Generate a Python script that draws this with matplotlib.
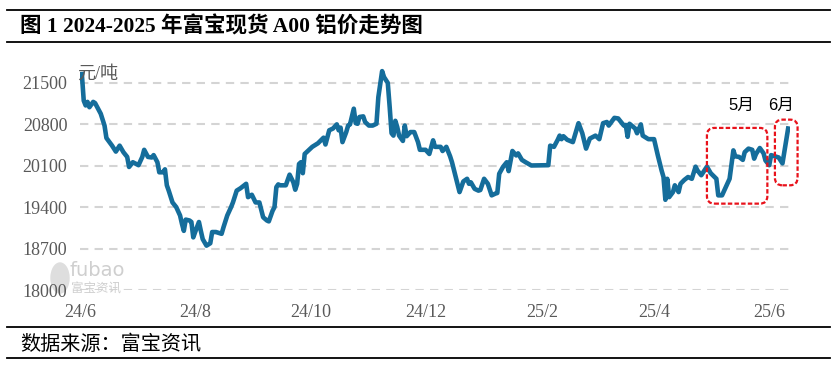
import numpy as np
import pandas as pd
import matplotlib
matplotlib.use('Agg')
import matplotlib.pyplot as plt
import matplotlib.dates as mdates
from matplotlib.patches import FancyBboxPatch, Ellipse
from matplotlib.lines import Line2D

plt.rcParams['font.family'] = ['Liberation Serif', 'Noto Sans CJK SC']

# 富宝现货 A00 铝价 (元/吨)
dates = ['2024-06-02', '2024-06-03', '2024-06-04', '2024-06-05', '2024-06-06', '2024-06-08', '2024-06-09',
         '2024-06-12', '2024-06-14', '2024-06-15', '2024-06-18', '2024-06-20', '2024-06-22', '2024-06-24',
         '2024-06-26', '2024-06-27', '2024-06-29', '2024-07-02', '2024-07-04', '2024-07-05', '2024-07-07',
         '2024-07-09', '2024-07-10', '2024-07-12', '2024-07-13', '2024-07-15', '2024-07-16', '2024-07-17',
         '2024-07-18', '2024-07-20', '2024-07-22', '2024-07-24', '2024-07-25', '2024-07-26', '2024-07-27',
         '2024-07-29', '2024-07-30', '2024-07-31', '2024-08-01', '2024-08-03', '2024-08-04', '2024-08-05',
         '2024-08-07', '2024-08-09', '2024-08-10', '2024-08-12', '2024-08-15', '2024-08-16', '2024-08-18',
         '2024-08-20', '2024-08-21', '2024-08-23', '2024-08-25', '2024-08-27', '2024-08-28', '2024-08-29',
         '2024-08-31', '2024-09-02', '2024-09-04', '2024-09-06', '2024-09-08', '2024-09-09', '2024-09-11',
         '2024-09-12', '2024-09-13', '2024-09-14', '2024-09-15', '2024-09-18', '2024-09-20', '2024-09-22',
         '2024-09-23', '2024-09-24', '2024-09-25', '2024-09-26', '2024-09-27', '2024-09-28', '2024-09-29',
         '2024-10-02', '2024-10-05', '2024-10-08', '2024-10-09', '2024-10-11', '2024-10-13', '2024-10-15',
         '2024-10-16', '2024-10-17', '2024-10-18', '2024-10-20', '2024-10-21', '2024-10-22', '2024-10-24',
         '2024-10-25', '2024-10-26', '2024-10-27', '2024-10-29', '2024-10-30', '2024-11-01', '2024-11-03',
         '2024-11-05', '2024-11-06', '2024-11-08', '2024-11-09', '2024-11-11', '2024-11-12', '2024-11-13',
         '2024-11-14', '2024-11-15', '2024-11-16', '2024-11-17', '2024-11-19', '2024-11-20', '2024-11-21',
         '2024-11-23', '2024-11-25', '2024-11-27', '2024-11-28', '2024-12-01', '2024-12-03', '2024-12-05',
         '2024-12-06', '2024-12-09', '2024-12-10', '2024-12-12', '2024-12-14', '2024-12-15', '2024-12-17',
         '2024-12-19', '2024-12-21', '2024-12-23', '2024-12-24', '2024-12-25', '2024-12-27', '2024-12-29',
         '2024-12-30', '2025-01-01', '2025-01-03', '2025-01-05', '2025-01-07', '2025-01-08', '2025-01-09',
         '2025-01-11', '2025-01-13', '2025-01-14', '2025-01-16', '2025-01-18', '2025-01-19', '2025-01-21',
         '2025-01-23', '2025-01-26', '2025-02-04', '2025-02-05', '2025-02-07', '2025-02-09', '2025-02-10',
         '2025-02-11', '2025-02-12', '2025-02-14', '2025-02-17', '2025-02-20', '2025-02-22', '2025-02-24',
         '2025-02-26', '2025-03-01', '2025-03-03', '2025-03-05', '2025-03-07', '2025-03-08', '2025-03-11',
         '2025-03-13', '2025-03-16', '2025-03-17', '2025-03-18', '2025-03-19', '2025-03-22', '2025-03-23',
         '2025-03-25', '2025-03-26', '2025-03-29', '2025-04-01', '2025-04-03', '2025-04-05', '2025-04-06',
         '2025-04-07', '2025-04-08', '2025-04-09', '2025-04-11', '2025-04-12', '2025-04-14', '2025-04-15',
         '2025-04-17', '2025-04-19', '2025-04-21', '2025-04-23', '2025-04-24', '2025-04-26', '2025-04-29',
         '2025-05-01', '2025-05-04', '2025-05-05', '2025-05-07', '2025-05-09', '2025-05-11', '2025-05-13',
         '2025-05-14', '2025-05-16', '2025-05-18', '2025-05-19', '2025-05-21', '2025-05-23', '2025-05-24',
         '2025-05-25', '2025-05-27', '2025-05-29', '2025-05-30', '2025-06-01', '2025-06-02', '2025-06-04',
         '2025-06-06', '2025-06-08', '2025-06-10', '2025-06-11']
prices = [21650, 21200, 21120, 21180, 21090, 21180, 21160,
          20980, 20780, 20570, 20440, 20340, 20440, 20330,
          20250, 20080, 20160, 20110, 20250, 20370, 20250,
          20240, 20280, 20160, 19990, 19990, 20040, 19770,
          19680, 19480, 19400, 19260, 19120, 19000, 19190,
          19175, 19150, 18890, 18980, 19150, 19000, 18860,
          18750, 18790, 18980, 18980, 18950, 19060, 19260,
          19400, 19480, 19680, 19720, 19770, 19795, 19570,
          19610, 19480, 19480, 19230, 19175, 19160, 19340,
          19400, 19740, 19785, 19770, 19770, 19950, 19820,
          19695, 19795, 20130, 20160, 19975, 20300, 20330,
          20420, 20480, 20575, 20460, 20700, 20730, 20800,
          20700, 20745, 20500, 20670, 20780, 20800, 21065,
          20820, 20810, 20925, 20935, 20840, 20780, 20780,
          20810, 21260, 21700, 21600, 21500, 21095, 20650,
          20610, 20860, 20755, 20610, 20520, 20780, 20600,
          20670, 20670, 20500, 20370, 20370, 20300, 20530,
          20420, 20420, 20350, 20420, 20260, 20160, 19910,
          19655, 19835, 19880, 19795, 19820, 19710, 19680,
          19690, 19880, 19795, 19600, 19630, 19640, 19965,
          20080, 20160, 20010, 20350, 20275, 20310, 20200,
          20160, 20105, 20110, 20440, 20420, 20540, 20610,
          20550, 20600, 20540, 20500, 20820, 20650, 20390,
          20560, 20610, 20550, 20820, 20840, 20780, 20910,
          20900, 20780, 20790, 20590, 20810, 20730, 20650,
          20800, 20610, 20550, 20550, 20275, 20020, 19910,
          19525, 19880, 19570, 19655, 19770, 19655, 19795,
          19860, 19910, 19880, 20085, 20020, 19940, 20085,
          19975, 19880, 19600, 19600, 19740, 19880, 20360,
          20260, 20250, 20200, 20330, 20390, 20370, 20220,
          20300, 20400, 20310, 20190, 20110, 20280, 20260,
          20240, 20140, 20530, 20730]

tick_dates = ['2024-06-01', '2024-08-01', '2024-10-01', '2024-12-01', '2025-02-01', '2025-04-01', '2025-06-01']
tick_labels = ['24/6', '24/8', '24/10', '24/12', '25/2', '25/4', '25/6']
y_ticks = [18000, 18700, 19400, 20100, 20800, 21500]

# highlighted periods: (start, end, low, high, label, label date)
boxes = [('2025-04-29', '2025-05-31', 19460, 20740, '5月', '2025-05-17'),
         ('2025-06-04', '2025-06-16', 19770, 20880, '6月', '2025-06-07')]

x = pd.to_datetime(dates)
gray = '#595959'

fig = plt.figure(figsize=(8.4, 3.67), dpi=100)
ax = fig.add_axes([0.0952, 0.2098, 0.8453, 0.6125])

ax.plot(x, prices, color='#156d9b', lw=3.3, solid_joinstyle='round', zorder=3)

ax.set_ylim(18000, 21800)
ax.set_xlim(pd.Timestamp('2024-06-01'), pd.Timestamp('2025-06-12'))
ax.set_yticks(y_ticks)
ax.set_yticklabels([str(v) for v in y_ticks])
ax.set_xticks(pd.to_datetime(tick_dates))
ax.set_xticklabels(tick_labels)
ax.tick_params(axis='both', length=0, labelsize=13, labelcolor=gray)
ax.tick_params(axis='x', pad=10)
ax.tick_params(axis='y', pad=9)
ax.grid(axis='y', color='#d4d4d4', lw=1.5, linestyle=(0, (4, 3)))
ax.grid(axis='x', visible=False)
for s in ax.spines.values():
    s.set_visible(False)

ax.text(-0.004, 0.962, '元/吨', transform=ax.transAxes, fontsize=13, color=gray,
        ha='left', va='center')

# red dashed rounded boxes
aspect = 700 / 41.4 * 1.89
for start, end, lo, hi, lab, lab_date in boxes:
    x0 = mdates.date2num(pd.Timestamp(start))
    x1 = mdates.date2num(pd.Timestamp(end))
    patch = FancyBboxPatch((x0, lo), x1 - x0, hi - lo,
                           boxstyle='round,pad=0,rounding_size=4',
                           mutation_aspect=aspect, fill=False,
                           edgecolor='#e8121b', lw=1.6, linestyle=(0, (2, 1)),
                           zorder=4, clip_on=False)
    ax.add_patch(patch)
    ax.text(pd.Timestamp(lab_date), 21120, lab, fontsize=12, ha='center', va='center',
            family=['Liberation Sans', 'Noto Sans CJK SC'])

# watermark
wm = '#cfcfcf'
fig.add_artist(Ellipse((60 / 840, 1 - 278 / 367), 18 / 840, 30 / 367, color='#dedede', zorder=0))
fig.text(70 / 840, 1 - 270 / 367, 'fubao', fontsize=14, color=wm, family='DejaVu Sans',
         ha='left', va='center')
fig.text(71 / 840, 1 - 289 / 367, '富宝资讯', fontsize=9, color=wm,
         family='Noto Sans CJK SC', ha='left', va='center')

# title and source with rules
for yy in [10, 42, 327, 358]:
    fig.add_artist(Line2D([7 / 840, 830 / 840], [1 - yy / 367, 1 - yy / 367], color='black', lw=1.3))
fig.text(20 / 840, 1 - 27 / 367, '图 1 2024-2025 年富宝现货 A00 铝价走势图', fontsize=15.5,
         fontweight='bold', ha='left', va='center')
fig.text(20 / 840, 1 - 344 / 367, '数据来源：富宝资讯', fontsize=14.5, ha='left', va='center',
         family=['Noto Sans CJK SC'])

fig.savefig('out.png', dpi=100)
